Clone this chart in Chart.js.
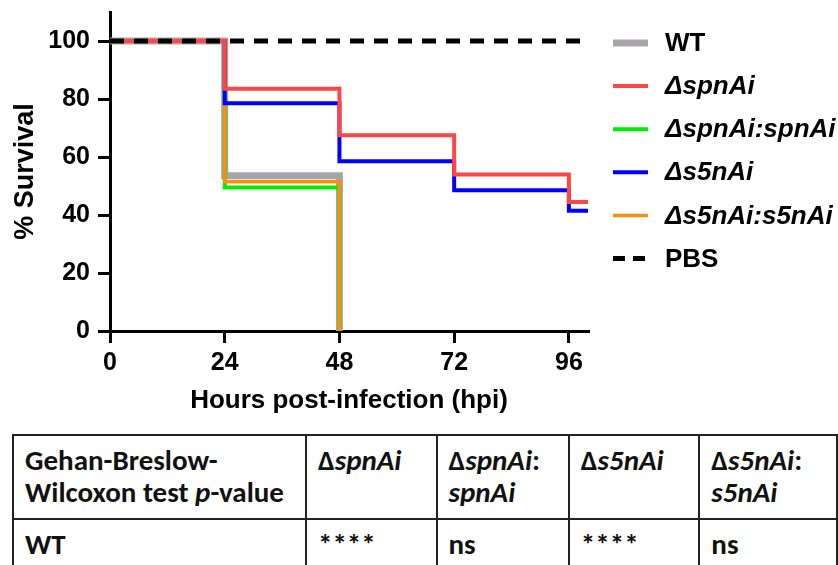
<!DOCTYPE html>
<html>
<head>
<meta charset="utf-8">
<script src="https://cdn.jsdelivr.net/npm/chart.js@4.4.1/dist/chart.umd.min.js"></script>
<style>
  html, body { margin: 0; padding: 0; background: #fff; }
  #wrap { position: relative; width: 838px; height: 565px; overflow: hidden; }
  #survivalChart { position: absolute; left: 0; top: 0; }
  #stats {
    position: absolute; left: 12px; top: 434px;
    border-collapse: collapse; table-layout: fixed;
    font-family: Carlito, Calibri, Lato, "Open Sans", sans-serif;
    font-weight: bold; font-size: 29px; color: #111;
  }
  #stats td { border: 2px solid #222; vertical-align: top; padding: 8px 11px 0 11px; line-height: 32px; white-space: nowrap; }
</style>
</head>
<body>
<div id="wrap">
  <canvas id="survivalChart" width="838" height="420"></canvas>
  <table id="stats"></table>
</div>
<script>
const hours = [0, 24, 48, 72, 96, 100];

const wt       = [100, 53.5, 0, null, null, null];
const spnA     = [100, 83.5, 67.5, 54, 44.5, 44.5];
const spnAComp = [100, 49.5, 0, null, null, null];
const s5nA     = [100, 78.5, 58.5, 48.5, 41.5, 41.5];
const s5nAComp = [100, 51.5, 0, null, null, null];
const pbs      = [100, 100, 100, 100, 100, 100];

const xTicks = [0, 24, 48, 72, 96];
const yTicks = [0, 20, 40, 60, 80, 100];

const tableHeader = ["Gehan-Breslow-<br>Wilcoxon test <i>p</i>-value", "Δ<i>spnAi</i>", "Δ<i>spnAi</i>:<br><i>spnAi</i>", "Δ<i>s5nAi</i>", "Δ<i>s5nAi</i>:<br><i>s5nAi</i>"];
const tableRow = ["WT", "****", "ns", "****", "ns"];
const colWidths = [294, 133, 134, 133, 140];

function toPoints(values) {
  const pts = [];
  values.forEach((v, i) => { if (v !== null) pts.push({ x: hours[i], y: v }); });
  return pts;
}

function buildTable() {
  const table = document.getElementById("stats");
  let html = "<colgroup>" + colWidths.map(w => `<col style="width:${w}px">`).join("") + "</colgroup>";
  html += `<tr style="height:84px">` + tableHeader.map(t => `<td>${t}</td>`).join("") + "</tr>";
  html += `<tr style="height:60px">` + tableRow.map(t => `<td>${t}</td>`).join("") + "</tr>";
  table.innerHTML = html;
}

const sideLegend = {
  id: "sideLegend",
  afterDraw(chart) {
    const ctx = chart.ctx;
    const x0 = chart.chartArea.right + 25;
    chart.data.datasets.forEach((ds, i) => {
      const y = 43 + i * 43.1;
      ctx.save();
      ctx.strokeStyle = ds.borderColor;
      ctx.lineWidth = ds.borderWidth;
      ctx.setLineDash(ds.legendDash || []);
      ctx.beginPath();
      ctx.moveTo(x0, y);
      ctx.lineTo(x0 + 35, y);
      ctx.stroke();
      ctx.setLineDash([]);
      ctx.fillStyle = "#000";
      ctx.font = (ds.italic ? "italic " : "") + "bold 26px 'Liberation Sans', Arial, sans-serif";
      ctx.textBaseline = "middle";
      ctx.fillText(ds.label, x0 + 52, y + 1);
      ctx.restore();
    });
  }
};

function makeSet(label, values, color, width, order, extra) {
  return Object.assign({
    label: label,
    data: toPoints(values),
    borderColor: color,
    backgroundColor: color,
    borderWidth: width,
    stepped: true,
    pointRadius: 0,
    fill: false,
    borderJoinStyle: "miter",
    borderCapStyle: "butt",
    order: order
  }, extra || {});
}

function renderSurvivalChart() {
  const ctx = document.getElementById("survivalChart").getContext("2d");
  const tickFont = { family: "'Liberation Sans', Arial, sans-serif", size: 25, weight: "bold" };
  const titleFont = { family: "'Liberation Sans', Arial, sans-serif", size: 27, weight: "bold" };

  new Chart(ctx, {
    type: "line",
    data: {
      datasets: [
        makeSet("WT", wt, "#a7a5aa", 7, 5),
        makeSet("ΔspnAi", spnA, "#ff4646", 4, 1, { italic: true }),
        makeSet("ΔspnAi:spnAi", spnAComp, "#00ee00", 4, 4, { italic: true }),
        makeSet("Δs5nAi", s5nA, "#0000ff", 4, 2, { italic: true }),
        makeSet("Δs5nAi:s5nAi", s5nAComp, "#ff8c0a", 3.5, 3, { italic: true }),
        makeSet("PBS", pbs, "#000000", 5, 0, { borderDash: [14, 10], legendDash: [12, 8] })
      ]
    },
    options: {
      responsive: false,
      animation: false,
      devicePixelRatio: 1,
      layout: { padding: { top: 12, right: 250, left: 0, bottom: 0 } },
      plugins: { legend: { display: false }, tooltip: { enabled: false } },
      scales: {
        x: {
          type: "linear",
          min: 0,
          max: 100,
          afterBuildTicks: scale => { scale.ticks = xTicks.map(v => ({ value: v })); },
          afterFit: scale => { scale.height = 89; scale.paddingLeft = 0; scale.paddingRight = 0; },
          ticks: { font: tickFont, color: "#000", padding: 5, maxRotation: 0, autoSkip: false },
          grid: { drawOnChartArea: false, color: "#000", lineWidth: 3, tickLength: 12 },
          border: { color: "#000", width: 3 },
          title: { display: true, text: "Hours post-infection (hpi)", font: { family: titleFont.family, size: 26, weight: "bold" }, color: "#000", padding: { top: 0, bottom: 4 } }
        },
        y: {
          min: 0,
          max: 110,
          afterBuildTicks: scale => { scale.ticks = yTicks.map(v => ({ value: v })); },
          afterFit: scale => { scale.width = 110; scale.paddingTop = 0; scale.paddingBottom = 0; },
          ticks: { font: tickFont, color: "#000", padding: 8 },
          grid: { drawOnChartArea: false, color: "#000", lineWidth: 3, tickLength: 12 },
          border: { color: "#000", width: 3 },
          title: { display: true, text: "% Survival", font: titleFont, color: "#000", padding: { top: 9, bottom: 0 } }
        }
      }
    },
    plugins: [sideLegend]
  });
}

buildTable();
renderSurvivalChart();
</script>
</body>
</html>
